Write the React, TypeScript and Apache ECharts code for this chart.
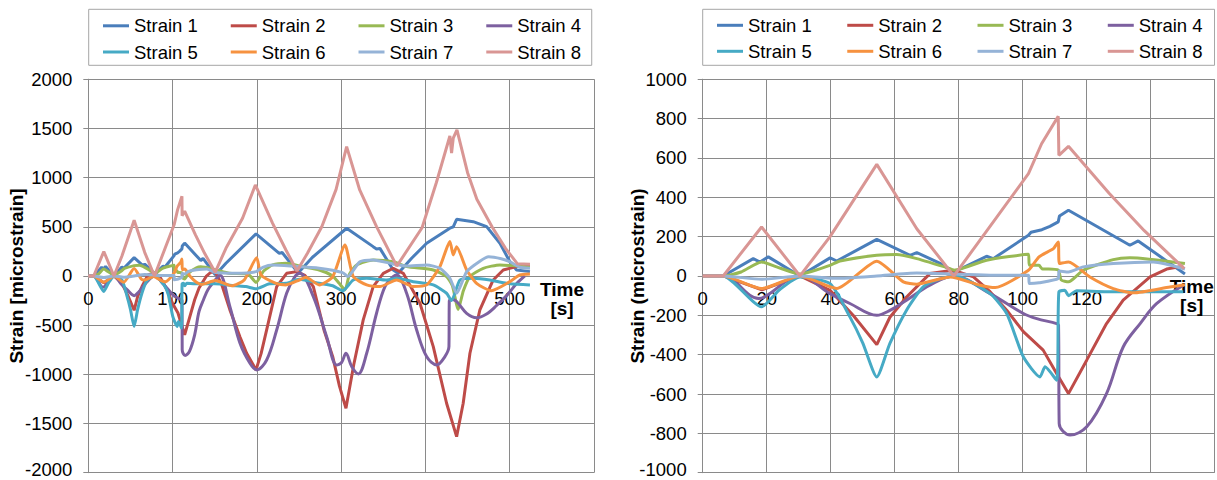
import React, { useEffect, useRef } from "react";
import * as echarts from "echarts";

const FONT = "'Liberation Sans', Arial, sans-serif";
const seriesNames = ["Strain 1", "Strain 2", "Strain 3", "Strain 4", "Strain 5", "Strain 6", "Strain 7", "Strain 8"];
const seriesColors = ["#4A7EBB", "#BE4B48", "#98B954", "#7D60A0", "#46AAC5", "#F69240", "#95B3D7", "#D99694"];
const seriesSmooth = [0, 0, 0.2, 0.35, 0.2, 0.2, 0.2, 0];

const leftXTickLabels = [0, 100, 200, 300, 400, 500];
const rightXTickLabels = [0, 20, 40, 60, 80, 100, 120];

// first ~150 s (right chart, also the start of the left chart)
const r1 = [[0,0],[6.4,0],[15.8,88],[17.9,71],[20.5,97],[30.4,0],[39.8,92],[41.9,76],[54.4,186],[64.8,105],[66.9,119],[74.2,64],[78.5,20],[88.7,100],[90.8,88],[101.8,207],[102.6,222],[106,235],[108.5,252],[111.1,275],[111.5,305],[114.3,334],[133.5,156],[136.1,178],[150.7,10]];
const r2 = [[0,0],[6.4,0],[18.5,-70],[30.4,0],[39.8,-73],[47,-200],[54.4,-349],[58.5,-210],[63.7,-107],[71,12],[78.3,29],[84.6,-5],[89.8,-80],[95,-174],[100.2,-283],[106.4,-377],[110.6,-496],[114.3,-598],[120,-428],[126.2,-242],[131.4,-123],[139.8,-5],[145,35],[150.2,50]];
const r3 = [[0,0],[6.4,0],[12,20],[18.4,71],[23.1,46],[30.4,10],[39.8,54],[42.9,76],[54.4,105],[60.6,109],[66.9,88],[77.3,37],[78.5,29],[88.7,80],[101.8,110],[102.1,54],[105.1,54],[106,37],[111.1,30],[112,-20],[114.3,-30],[118.9,29],[128.3,83],[133.5,93],[150.7,63]];
const r4 = [[0,0],[6.4,0],[17.5,-115],[19.5,-105],[30.4,0],[39.8,-90],[46,-140],[54.4,-200],[58.5,-175],[63.7,-123],[71,-47],[78.3,0],[89.8,-90],[100.2,-191],[104.4,-217],[110.6,-242],[111.2,-250],[111.4,-750],[114.8,-809],[120,-767],[126.2,-598],[131.4,-361],[136.7,-242],[141.9,-140],[150.2,-47]];
const r5 = [[0,0],[6.4,0],[18.4,-157],[24,-70],[30.4,-5],[39.8,-39],[46,-208],[50,-340],[54.4,-513],[58.5,-343],[63.7,-174],[68.9,-56],[74.2,-15],[79,0],[89.8,-90],[95,-191],[100.2,-411],[105.4,-513],[107,-462],[110.6,-530],[111.3,-81],[113.2,-73],[114.3,-100],[116.9,-75],[126.2,-80],[150.2,-80]];
const r6 = [[0,0],[6.4,0],[18.4,-64],[30.4,0],[41.9,-64],[54.4,75],[62.7,-30],[66.9,-42],[77.3,-5],[86.7,-47],[91.4,-59],[101.8,29],[105.1,97],[109.6,139],[111.1,173],[111.5,63],[114.3,71],[121,-5],[128.3,-64],[134.6,-86],[146,-56],[150.7,-45]];
const r7 = [[0,0],[6.4,0],[18.4,-17],[30.4,0],[41.9,-12],[54.4,0],[66.9,15],[78,10],[89.8,4],[101.8,4],[102.1,-39],[105.1,-35],[111.1,-13],[111.4,25],[114.3,20],[118.9,46],[128.3,63],[140.8,71],[150.7,35]];
const r8 = [[0,0],[6.4,0],[18.4,249],[30.4,0],[39.8,200],[54.4,567],[66.9,240],[78.5,0],[101.8,520],[105.9,672],[111.1,811],[111.3,613],[114.3,659],[127,420],[138,230],[150.5,37]];

// remainder of the full test (left chart only)
const l1Rest = [[163.3,129],[199,427],[226.6,230],[230,238],[246.4,61],[250,40],[266,190],[306.5,485],[338,298],[342,275],[346,280],[361.8,61],[367.7,27],[383.6,180],[401.4,332],[429,485],[433,500],[437,576],[456.7,552],[472.6,501],[488.4,332],[500.2,145],[508.2,61],[524,44]];
const l2Rest = [[158,-80],[168,-345],[180,-620],[187.9,-786],[199,-955],[205,-790],[211.6,-549],[223.5,-108],[235.3,27],[247.2,44],[257,5],[267,-108],[280,-560],[290,-820],[298,-1120],[305.7,-1345],[315,-900],[326.2,-447],[338,-108],[350,27],[361.8,78],[373.7,27],[393.5,-278],[409.3,-718],[425.1,-1294],[437,-1633],[444.8,-1294],[452.8,-786],[464.6,-345],[480.4,-41],[492.3,61],[508.2,95],[524,100]];
const l3Rest = [[167.3,27],[190,15],[199,-65],[208,50],[218.7,112],[234.5,129],[254,95],[274,61],[290,0],[297.7,-75],[304.5,-142],[310,20],[318.4,112],[338,163],[361.8,145],[377.7,95],[409.3,61],[425.1,-7],[432,-100],[438.9,-340],[445,-150],[452.8,-7],[468.6,78],[488.4,112],[524,88]];
const l4Rest = [[156,10],[168,-312],[180,-684],[191.8,-887],[199.8,-955],[211.6,-854],[223.5,-549],[235.3,-176],[245.2,-7],[251,27],[267,-210],[282.8,-617],[294.7,-905],[300.5,-880],[305.7,-786],[312.5,-921],[320.3,-996],[330.3,-786],[342,-379],[352,-108],[361.8,-7],[366,10],[377.7,-176],[389.6,-549],[401.4,-820],[413.3,-905],[423.1,-820],[427.9,-718],[428.3,-255],[432,-240],[437,-260],[448.9,-380],[460.7,-425],[472,-390],[484.5,-300],[496.3,-200],[508,-80],[518,0]];
const l5Rest = [[175,-100],[187,-108],[199,-130],[215,-80],[234.5,-75],[250.3,-34],[274,-75],[290,-100],[301.8,-150],[314.4,-41],[330.3,-24],[354,-41],[365.8,-24],[385.5,-58],[409.3,-91],[425.1,-176],[431,-250],[441,-41],[456.7,-24],[476.5,-41],[496.3,-75],[524,-91]];
const l6Rest = [[170,-100],[185,-40],[199.8,185],[204.9,10],[222.7,-75],[234.5,-91],[250.3,-41],[258,-13],[274,-91],[290,-7],[304.5,315],[314.4,-7],[330.3,-91],[346,-108],[365.8,-41],[385.5,-108],[401.4,-91],[417.2,95],[429,349],[433,213],[437,298],[448.9,61],[460.7,-75],[478,-150],[500.2,-58],[512,10],[524,20]];
const l7Rest = [[175,27],[199,44],[207,88],[218.7,112],[242,100],[274,78],[301.8,34],[308,-5],[322.3,145],[338,163],[361.8,122],[377.7,100],[401.4,112],[417.2,78],[429,-23],[437,-176],[449,44],[464.6,150],[475,195],[490,175],[500,145],[512,88],[524,78]];
const l8Rest = [[163.3,281],[183,586],[198.2,925],[218.7,535],[234.5,264],[247.6,51],[260,230],[277,500],[294,880],[306.5,1314],[322,874],[342,501],[366,100],[396,490],[413,950],[429,1423],[431,1250],[433,1400],[437.4,1484],[450,1050],[461,780],[479,500],[495,280],[509,125],[524,118]];

const rightData = [r1, r2, r3, r4, r5, r6, r7, r8];
const leftData = [
  r1.concat(l1Rest), r2.concat(l2Rest), r3.concat(l3Rest), r4.concat(l4Rest),
  r5.concat(l5Rest), r6.concat(l6Rest), r7.concat(l7Rest), r8.concat(l8Rest),
];

const GRID = "#8a8a8a";
const GRID_TOP = 79.2;
const GRID_HEIGHT = 393.5;

function makeXAxis(gridIndex: number, max: number, interval: number, labels: number[], nameGap: number, namePadTop: number) {
  return {
    type: "value", gridIndex, min: 0, max, interval,
    position: "bottom",
    // symmetric y range: move the whole x axis (line, labels, name) up to y = 0
    offset: -GRID_HEIGHT / 2,
    name: "Time\n[s]", nameLocation: "end", nameGap, nameMoveOverlap: false,
    nameTextStyle: {
      fontFamily: FONT, fontSize: 19, fontWeight: "bold", color: "#000",
      align: "center", verticalAlign: "top", lineHeight: 19, padding: [namePadTop, 0, 0, 0],
    },
    axisLine: { show: true, onZero: false, lineStyle: { color: GRID, width: 1 } },
    axisTick: { show: true, length: 5, lineStyle: { color: GRID } },
    axisLabel: {
      margin: 13, fontFamily: FONT, fontSize: 18.5, color: "#000",
      showMinLabel: true, showMaxLabel: true, hideOverlap: false,
      formatter: (v: number) => (labels.indexOf(v) >= 0 ? String(v) : ""),
    },
    splitLine: { show: true, lineStyle: { color: GRID, width: 1 } },
  };
}

function makeYAxis(gridIndex: number, min: number, max: number, interval: number, name: string, nameGap: number) {
  return {
    type: "value", gridIndex, min, max, interval,
    name, nameLocation: "middle", nameGap, nameMoveOverlap: false,
    nameTextStyle: { fontFamily: FONT, fontSize: 19, fontWeight: "bold", color: "#000" },
    axisLine: { show: true, onZero: false, lineStyle: { color: GRID, width: 1 } },
    axisTick: { show: true, length: 5, lineStyle: { color: GRID } },
    axisLabel: {
      margin: 16, fontFamily: FONT, fontSize: 18.5, color: "#000", showMinLabel: true, showMaxLabel: true,
      formatter: (v: number) => (v === min ? "{lo|" + v + "}" : String(v)),
      rich: { lo: { fontFamily: FONT, fontSize: 18.5, color: "#000", padding: [0, 0, 7, 0] } },
    },
    splitLine: { show: true, lineStyle: { color: GRID, width: 1 } },
  };
}

function legendRow(data: string[], left: number, top: number, itemGap: number, boxed: boolean, padding: number[] | number) {
  return {
    data, left, top, itemGap, padding,
    orient: "horizontal",
    icon: "rect", itemWidth: 26, itemHeight: 3,
    selectedMode: false,
    borderColor: boxed ? "#a6a6a6" : "transparent",
    borderWidth: boxed ? 1 : 0,
    textStyle: { fontFamily: FONT, fontSize: 18.5, color: "#000" },
  };
}

export default function App() {
  const ref = useRef<HTMLDivElement>(null);
  useEffect(() => {
    if (!ref.current) return;
    const chart = echarts.init(ref.current, null, { renderer: "svg" });
    const series: any[] = [];
    seriesNames.forEach((n, i) => {
      series.push({
        name: n, type: "line", xAxisIndex: 0, yAxisIndex: 0, data: leftData[i],
        showSymbol: false, symbol: "none", color: seriesColors[i], smooth: seriesSmooth[i],
        lineStyle: { width: 3, color: seriesColors[i] }, emphasis: { disabled: true },
      });
    });
    seriesNames.forEach((n, i) => {
      series.push({
        name: n, type: "line", xAxisIndex: 1, yAxisIndex: 1, data: rightData[i],
        showSymbol: false, symbol: "none", color: seriesColors[i], smooth: seriesSmooth[i],
        lineStyle: { width: 3, color: seriesColors[i] }, emphasis: { disabled: true },
      });
    });
    chart.setOption({
      animation: false,
      backgroundColor: "#fff",
      textStyle: { fontFamily: FONT },
      grid: [
        { left: 88.3, top: GRID_TOP, width: 505.7, height: GRID_HEIGHT, containLabel: false, outerBoundsMode: "none" },
        { left: 702.7, top: GRID_TOP, width: 512, height: GRID_HEIGHT, containLabel: false, outerBoundsMode: "none" },
      ],
      legend: [
        legendRow(seriesNames.slice(0, 4), 88.7, 9.3, 33, true, [7, 10.7, 30, 14.3]),
        legendRow(seriesNames.slice(4), 103, 42.5, 33, false, 0),
        legendRow(seriesNames.slice(0, 4), 702.7, 9.3, 35.5, true, [6.5, 12, 30.5, 14.3]),
        legendRow(seriesNames.slice(4), 717, 41.8, 35.5, false, 0),
      ],
      xAxis: [
        makeXAxis(0, 600, 100, leftXTickLabels, -32, 4),
        makeXAxis(1, 160, 20, rightXTickLabels, -23, 1),
      ],
      yAxis: [
        makeYAxis(0, -2000, 2000, 500, "Strain [microstrain]", 62),
        makeYAxis(1, -1000, 1000, 200, "Strain (microstrain)", 56),
      ],
      series,
    });
    return () => chart.dispose();
  }, []);
  return <div ref={ref} style={{ position: "fixed", left: 0, top: 0, width: 1217, height: 480, background: "#fff" }} />;
}
